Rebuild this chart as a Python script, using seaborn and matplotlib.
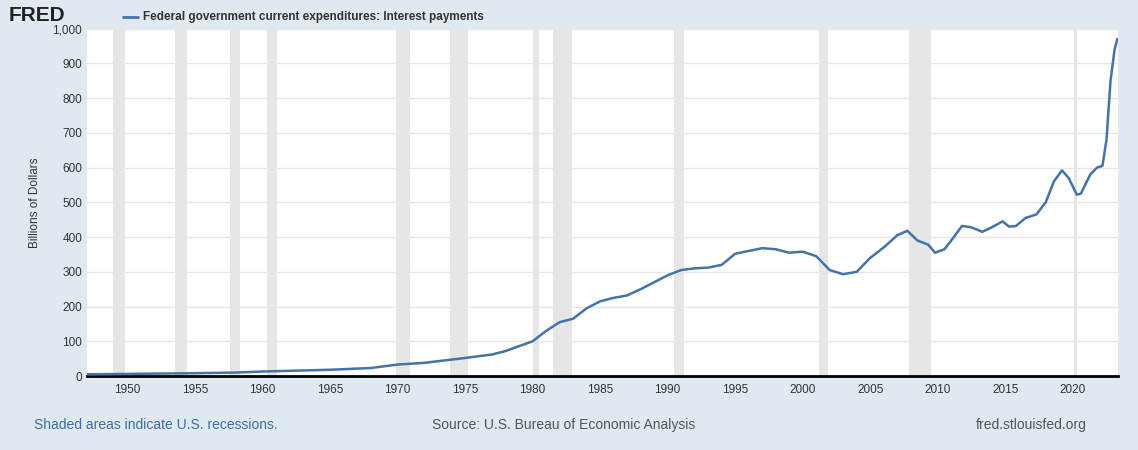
import numpy as np
import pandas as pd
import matplotlib
matplotlib.use("Agg")
import matplotlib.pyplot as plt
import seaborn as sns

# data (billions of dollars)
years = [1947, 1950, 1952, 1955, 1958, 1960, 1962, 1965, 1968, 1970, 1972, 1975, 1977,
         1978, 1980, 1981, 1982, 1983, 1984, 1985, 1986, 1987, 1988, 1989, 1990, 1991,
         1992, 1993, 1994, 1995, 1996, 1997, 1998, 1999, 2000, 2001, 2002, 2003, 2004,
         2005, 2006, 2007, 2007.75, 2008.5, 2009.3, 2009.8, 2010.5, 2011, 2011.8, 2012.5,
         2013.3, 2014, 2014.8, 2015.3, 2015.8, 2016.5, 2017.3, 2018, 2018.6, 2019.2,
         2019.7, 2020.3, 2020.6, 2021.3, 2021.8, 2022.2, 2022.5, 2022.8, 2023.1, 2023.3]
values = [5, 6, 7, 8, 10, 13, 15, 18, 23, 33, 38, 52, 62,
          72, 100, 130, 155, 165, 195, 215, 225, 232, 250, 270, 290, 305,
          310, 312, 320, 352, 360, 368, 365, 355, 358, 345, 305, 293, 300,
          340, 370, 405, 418, 390, 378, 355, 365, 390, 432, 428,
          415, 428, 445, 430, 432, 455, 465, 500, 560, 592,
          570, 522, 525, 580, 600, 605, 680, 850, 940, 970]
rec_start = [1948.9, 1953.5, 1957.6, 1960.3, 1969.9, 1973.9, 1980.0, 1981.5, 1990.5, 2001.2, 2007.9, 2020.1]
rec_end = [1949.8, 1954.4, 1958.3, 1961.1, 1970.9, 1975.2, 1980.5, 1982.9, 1991.2, 2001.9, 2009.5, 2020.3]

df = pd.DataFrame({"year": years, "value": values})

bg = "#e1e9f0"
sns.set_style("whitegrid")
plt.rcParams["font.family"] = ["Liberation Sans", "DejaVu Sans"]

fig = plt.figure(figsize=(11.38, 4.5), dpi=100, facecolor=bg)
ax = fig.add_axes([0.0765, 0.1644, 0.9059, 0.772])
for s, e in zip(rec_start, rec_end):
    ax.axvspan(s, e, color="#e6e6e6", zorder=0, lw=0)
sns.lineplot(data=df, x="year", y="value", ax=ax, color="#4572a7", lw=1.8, zorder=3)

ax.set_xlim(1947, 2023.35)
ax.set_ylim(0, 1000)
ax.set_xticks(range(1950, 2021, 5))
ax.set_yticks(range(0, 1001, 100))
ax.set_yticklabels([f"{v:,}" for v in range(0, 1001, 100)])
ax.grid(axis="x", visible=False)
ax.grid(axis="y", color="#e6e6e6", lw=1)
for sp in ["top", "right", "left"]:
    ax.spines[sp].set_visible(False)
ax.spines["bottom"].set_color("black")
ax.spines["bottom"].set_linewidth(2)
ax.tick_params(axis="both", labelsize=8.5, colors="#333333", length=0)
ax.tick_params(axis="x", pad=6)
ax.set_xlabel("")
ax.set_ylabel("Billions of Dollars", fontsize=8.5, color="#333333", labelpad=8)

fig.text(0.008, 0.966, "FRED", fontsize=15, fontweight="bold", color="#222222", va="center")
fig.add_artist(plt.Line2D([0.108, 0.121], [0.962, 0.962], color="#4572a7", lw=2, transform=fig.transFigure))
fig.text(0.126, 0.962, "Federal government current expenditures: Interest payments",
         fontsize=8.5, fontweight="bold", color="#333333", va="center")
fig.text(0.03, 0.055, "Shaded areas indicate U.S. recessions.", fontsize=10, color="#3a6ea8", va="center")
fig.text(0.38, 0.055, "Source: U.S. Bureau of Economic Analysis", fontsize=10, color="#555555", va="center")
fig.text(0.955, 0.055, "fred.stlouisfed.org", fontsize=10, color="#555555", va="center", ha="right")

fig.savefig("out.png", dpi=100, facecolor=bg)
